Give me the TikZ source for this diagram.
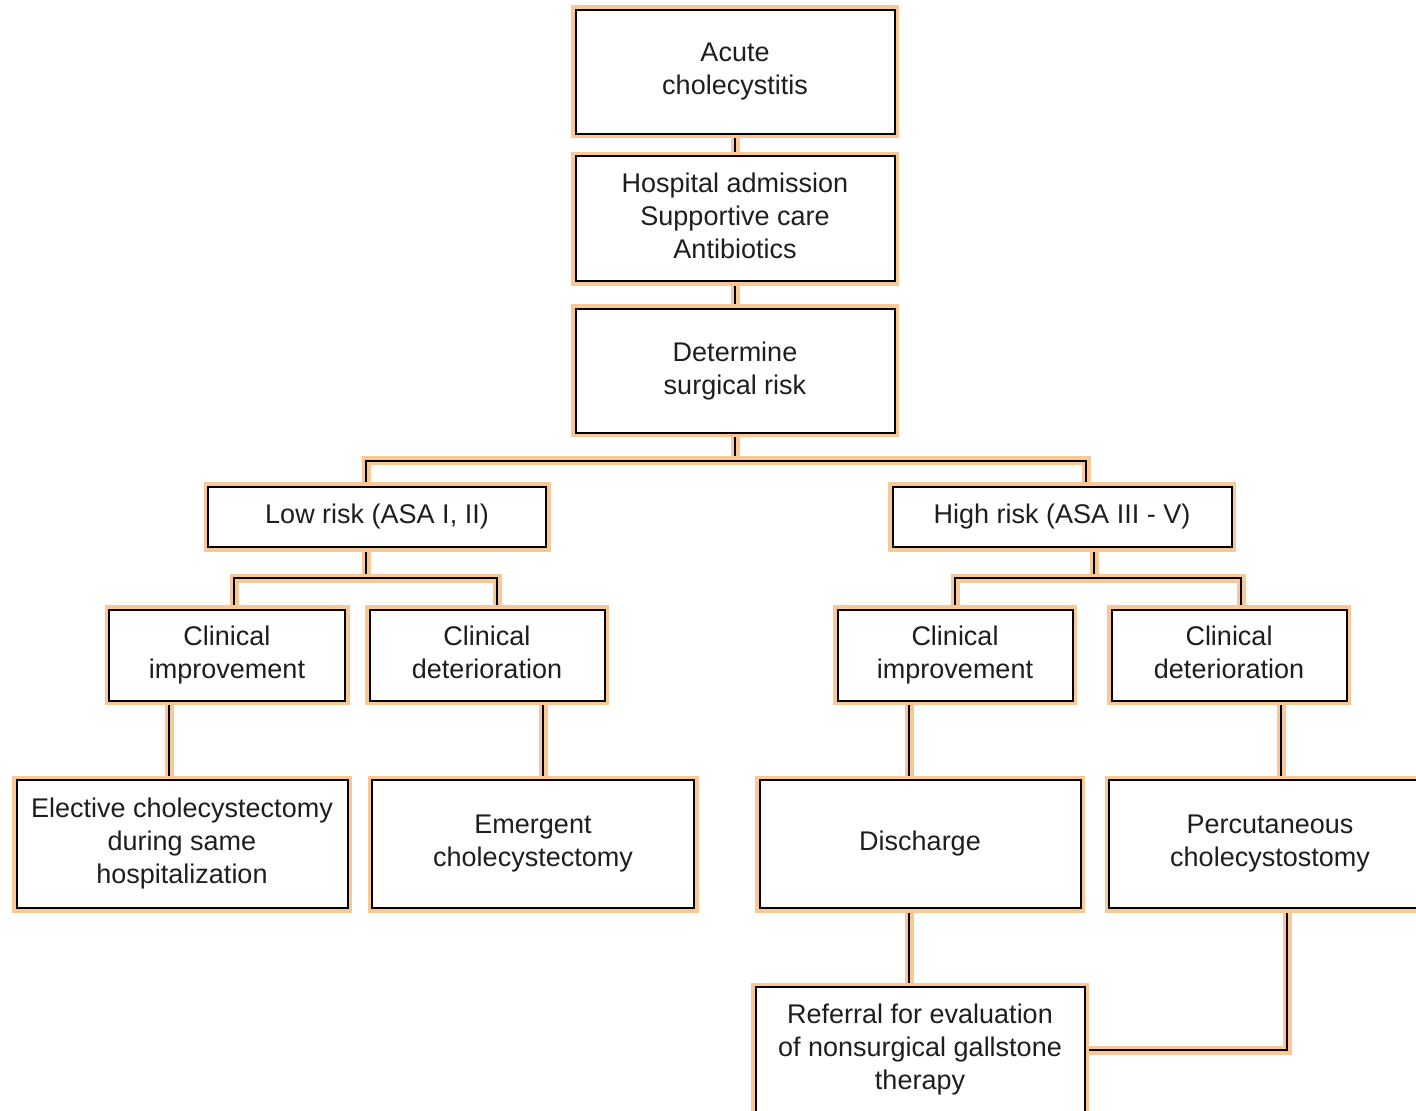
\documentclass[tikz,border=0pt]{standalone}
\usepackage{fontspec}
\setmainfont{Liberation Sans}
\usetikzlibrary{positioning,backgrounds}
\definecolor{glow}{RGB}{250,200,150}
\definecolor{ink}{RGB}{30,30,30}
\tikzset{
  box/.style={draw=black, line width=1pt, fill=white,
    preaction={draw=glow, line width=4.5pt},
    align=center, inner sep=0pt, text=ink, text depth=3pt,
    font=\fontsize{13.5}{16.5}\selectfont},
  link/.style={draw=black, line width=1pt,
    preaction={draw=glow, line width=4.5pt}}
}

\begin{document}
\begin{tikzpicture}[x=0.5pt, y=-0.5pt]
    \useasboundingbox (0,0) rectangle (1416,1111);
    % trunk
    \node[box, minimum width=159.5pt, minimum height=62pt] (acute) at (735,72) {Acute\\cholecystitis};
    \node[box, minimum width=159.5pt, minimum height=62.5pt] (hosp) [below of=acute, node distance=73.5pt] {Hospital admission\\Supportive care\\Antibiotics};
    \node[box, minimum width=159.5pt, minimum height=62pt] (risk) [below of=hosp, node distance=76pt] {Determine\\surgical risk};
    % risk groups
    \node[box, minimum width=169pt, minimum height=30pt] (low) at (377,517) {Low risk (ASA I, II)};
    \node[box, minimum width=169.5pt, minimum height=30pt] (high) [right of=low, node distance=342.5pt] {High risk (ASA III - V)};
    % course
    \node[box, minimum width=118pt, minimum height=45.5pt] (cil) at (227,655) {Clinical\\improvement};
    \node[box, minimum width=117.5pt, minimum height=45.5pt] (cdl) [right of=cil, node distance=130pt] {Clinical\\deterioration};
    \node[box, minimum width=117.5pt, minimum height=45.5pt] (cir) at (955,655) {Clinical\\improvement};
    \node[box, minimum width=117.5pt, minimum height=45.5pt] (cdr) [right of=cir, node distance=137pt] {Clinical\\deterioration};
    % outcome
    \node[box, minimum width=165.5pt, minimum height=64pt] (elective) at (182,844) {Elective cholecystectomy\\during same\\hospitalization};
    \node[box, minimum width=161pt, minimum height=64pt] (emergent) [right of=elective, node distance=175.5pt] {Emergent\\cholecystectomy};
    \node[box, minimum width=160.5pt, minimum height=64pt] (discharge) at (920,844) {Discharge};
    \node[box, minimum width=161pt, minimum height=64pt] (percut) [right of=discharge, node distance=175pt] {Percutaneous\\cholecystostomy};
    \node[box, minimum width=164.5pt, minimum height=63pt] (referral) [below of=discharge, node distance=103pt] {Referral for evaluation\\of nonsurgical gallstone\\therapy};
    % junctions
    \coordinate (f1) at ([yshift=-13.5pt]risk.south);
    \coordinate (lowin) at ([xshift=-5.5pt]low.north);
    \coordinate (highin) at ([xshift=12pt]high.north);
    \coordinate (lowout) at ([xshift=-5.5pt]low.south);
    \coordinate (f2) at ([yshift=-15pt]lowout);
    \coordinate (cilin) at ([xshift=3.5pt]cil.north);
    \coordinate (cdlin) at ([xshift=5pt]cdl.north);
    \coordinate (highout) at ([xshift=16pt]high.south);
    \coordinate (f3) at ([yshift=-15pt]highout);
    \coordinate (cirin) at (cir.north);
    \coordinate (cdrin) at ([xshift=6pt]cdr.north);
    \coordinate (s1) at ([xshift=-6.5pt]elective.north);
    \coordinate (s2) at ([xshift=5pt]emergent.north);
    \coordinate (s3) at ([xshift=-5.5pt]discharge.north);
    \coordinate (s4) at ([xshift=5.5pt]percut.north);
    \coordinate (s5) at ([xshift=-5.5pt]discharge.south);
    \coordinate (s6) at ([xshift=8.5pt]percut.south);
    \begin{scope}[on background layer]
    \draw[link] (acute) -- (hosp);
    \draw[link] (hosp) -- (risk);
    \draw[link] (risk) -- (f1);
    \draw[link] (lowin) |- (f1) -| (highin);
    \draw[link] (lowout) -- (f2);
    \draw[link] (cilin) |- (f2) -| (cdlin);
    \draw[link] (highout) -- (f3);
    \draw[link] (cirin) |- (f3) -| (cdrin);
    \draw[link] (s1) -- (s1 |- cil.south);
    \draw[link] (s2) -- (s2 |- cdl.south);
    \draw[link] (s3) -- (s3 |- cir.south);
    \draw[link] (s4) -- (s4 |- cdr.south);
    \draw[link] (s5) -- (s5 |- referral.north);
    \draw[link] (s6) |- (referral.east);
    \end{scope}
\end{tikzpicture}
\end{document}
